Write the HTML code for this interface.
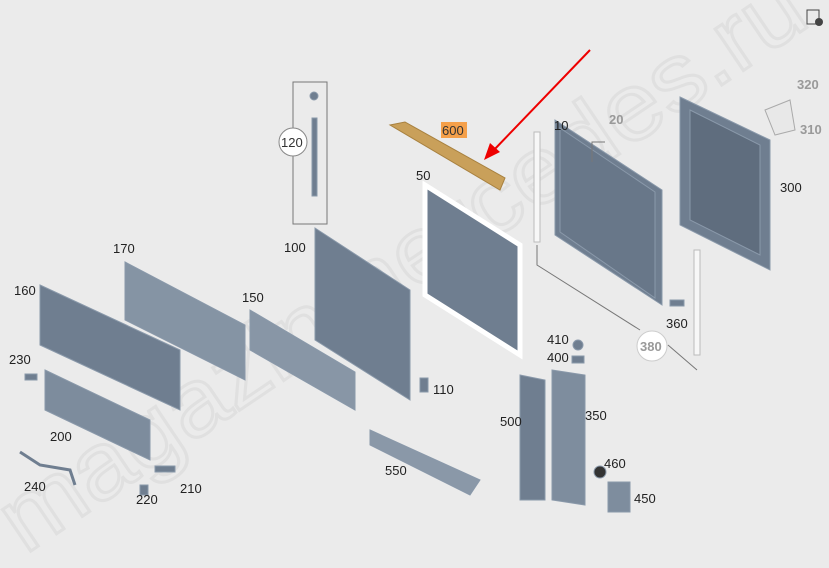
<!DOCTYPE html>
<html><head><meta charset="utf-8"><style>
html,body{margin:0;padding:0;background:#ebebeb;width:829px;height:568px;overflow:hidden;}
svg{display:block;font-family:"Liberation Sans",sans-serif;}
</style></head><body>
<svg width="829" height="568" viewBox="0 0 829 568" xmlns="http://www.w3.org/2000/svg">
<rect width="829" height="568" fill="#ebebeb"/>
<text x="25" y="555" font-size="95" textLength="950" lengthAdjust="spacingAndGlyphs" fill="none" stroke="#e0e0e0" stroke-width="3" transform="rotate(-34 25 555)">magazinmercedes.ru</text>
<g fill="#6f7e90" stroke="#8a99aa" stroke-width="1">
<polygon points="680,97 770,140 770,270 680,225"/>
<polygon points="690,110 760,145 760,255 690,220" fill="#5f6d7e"/>
<polygon points="555,120 662,190 662,305 555,235" />
<polygon points="560,128 655,192 655,298 560,232" fill="#687789"/>
<polygon points="425,185 520,245 520,355 425,295" stroke="#fff" stroke-width="5"/>
<polygon points="315,228 410,290 410,400 315,340"/>
<polygon points="250,310 355,372 355,410 250,350" fill="#8896a6"/>
<polygon points="125,262 245,325 245,380 125,320" fill="#8594a4"/>
<polygon points="40,285 180,350 180,410 40,345"/>
<polygon points="45,370 150,420 150,460 45,410" fill="#7d8c9d"/>
<polygon points="370,430 480,480 470,495 370,445" fill="#8a98a8"/>
<polygon points="520,375 545,380 545,500 520,500"/>
<polygon points="552,370 585,375 585,505 552,500" fill="#7e8d9e"/>
<rect x="608" y="482" width="22" height="30" fill="#7e8d9e"/>
<circle cx="600" cy="472" r="6" fill="#333"/>
<circle cx="578" cy="345" r="5"/><rect x="572" y="356" width="12" height="7"/>
<rect x="670" y="300" width="14" height="6"/>
<rect x="420" y="378" width="8" height="14"/>
<rect x="25" y="374" width="12" height="6"/>
<rect x="140" y="485" width="8" height="10"/>
<rect x="155" y="466" width="20" height="6"/>
<polyline points="20,452 40,465 70,470 75,485" fill="none" stroke="#6f7e90" stroke-width="3"/>
<rect x="312" y="118" width="5" height="78"/>
<circle cx="314" cy="96" r="4"/>
</g>
<rect x="534" y="132" width="6" height="110" fill="#f7f7f7" stroke="#bbb"/>
<rect x="694" y="250" width="6" height="105" fill="#f7f7f7" stroke="#bbb"/>
<polygon points="390,125 405,122 505,178 500,190" fill="#c9a05a" stroke="#a8813f"/>
<rect x="441" y="122" width="26" height="16" fill="#f5a04a"/>
<text x="442" y="135" font-size="13" fill="#333">600</text>
<line x1="590" y1="50" x2="492" y2="152" stroke="#e00" stroke-width="2"/>
<polygon points="484,160 490,143 500,152" fill="#e00"/>
<g stroke="#777" fill="none" stroke-width="1">
<polyline points="537,245 537,265 640,330"/>
<polyline points="668,345 697,370"/>
<polyline points="592,162 592,142 605,142"/>
<rect x="293" y="82" width="34" height="142"/>
</g>
<circle cx="293" cy="142" r="14" fill="#fff" stroke="#888"/>
<text x="281" y="147" font-size="13" fill="#333">120</text>
<circle cx="652" cy="346" r="15" fill="#fff" stroke="#ccc"/>
<text x="640" y="351" font-size="13" font-weight="bold" fill="#999">380</text>
<g font-size="13" fill="#222">
<text x="554" y="130">10</text>
<text x="609" y="124" fill="#999" font-weight="bold">20</text>
<text x="416" y="180">50</text>
<text x="284" y="252">100</text>
<text x="433" y="394">110</text>
<text x="242" y="302">150</text>
<text x="14" y="295">160</text>
<text x="113" y="253">170</text>
<text x="50" y="441">200</text>
<text x="180" y="493">210</text>
<text x="136" y="504">220</text>
<text x="9" y="364">230</text>
<text x="24" y="491">240</text>
<text x="780" y="192">300</text>
<text x="797" y="89" fill="#999" font-weight="bold">320</text>
<text x="800" y="134" fill="#999" font-weight="bold">310</text>
<text x="585" y="420">350</text>
<text x="666" y="328">360</text>
<text x="547" y="344">410</text>
<text x="547" y="362">400</text>
<text x="385" y="475">550</text>
<text x="500" y="426">500</text>
<text x="604" y="468">460</text>
<text x="634" y="503">450</text>
</g>
<polygon points="765,110 790,100 795,130 775,135" fill="#e8e8e8" stroke="#aaa"/>
<rect x="807" y="10" width="12" height="14" fill="none" stroke="#444"/>
<circle cx="819" cy="22" r="4" fill="#444"/>
</svg>
</body></html>
